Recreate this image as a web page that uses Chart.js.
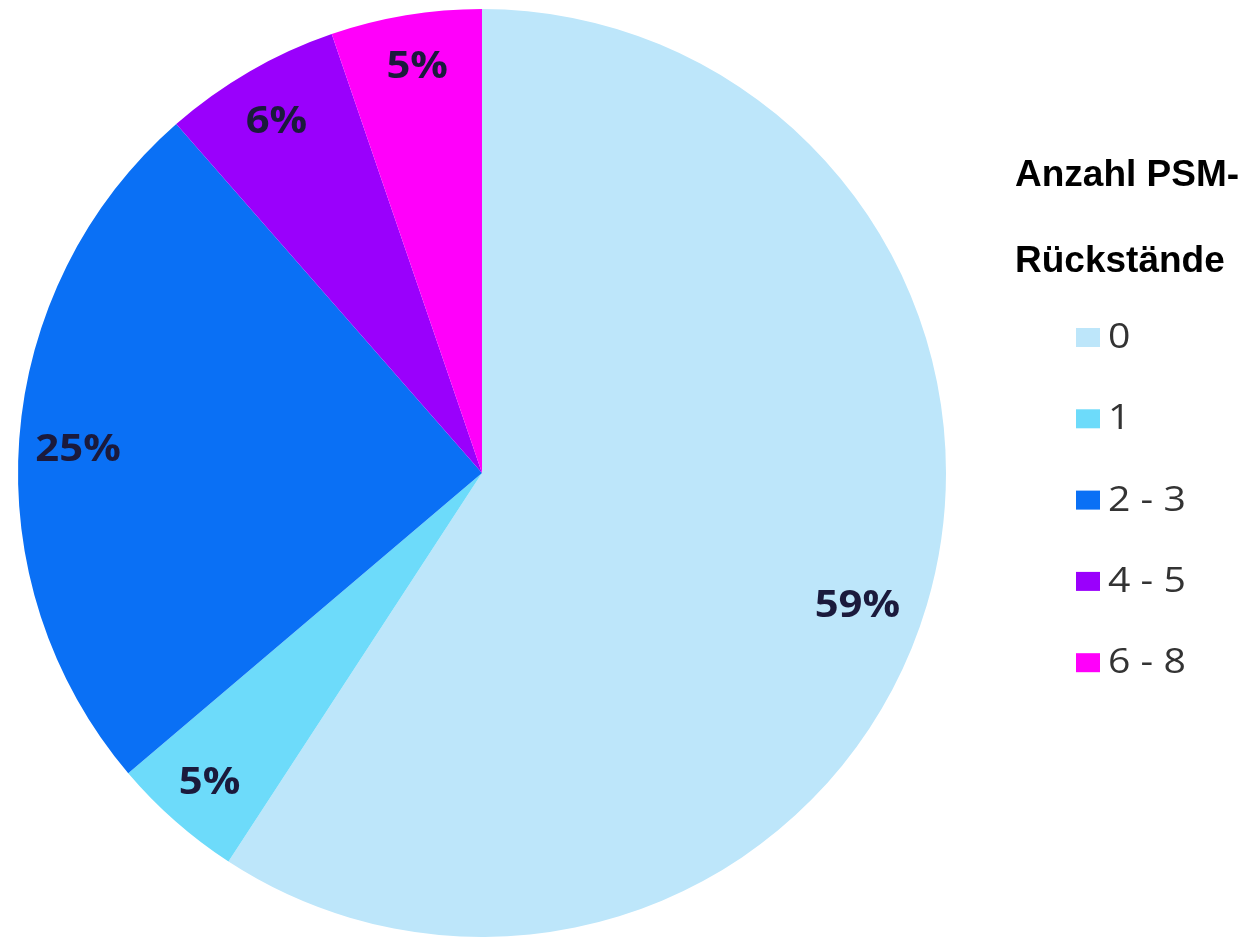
<!DOCTYPE html>
<html>
<head>
<meta charset="utf-8">
<script src="https://cdn.jsdelivr.net/npm/chart.js@4/dist/chart.umd.min.js"></script>
<style>
  html, body { margin: 0; padding: 0; background: #fff; }
  #wrap { width: 1245px; height: 938px; position: relative; }
</style>
</head>
<body>
<div id="wrap"><canvas id="pieChart"></canvas></div>
<script>
// Anzahl PSM-Rückstände, share of samples
const categories = ['0', '1', '2 - 3', '4 - 5', '6 - 8'];
const shares = [59.2, 4.6, 24.75, 6.2, 5.25];
const sliceColors = ['#BDE6FA', '#6DDBFA', '#0A70F5', '#9A00FC', '#FF00FA'];
const legendTitle = ['Anzahl PSM-', 'Rückstände'];

// label placement: fraction of radius, angle nudge in degrees
const labelRadius = [0.858, 0.888, 0.872, 0.879, 0.888];
const labelNudge = [2.9, 0, -0.9, -0.2, 0.4];

function stretchedText(ctx, text, x, y, sx) {
    ctx.save();
    ctx.translate(x, y);
    ctx.scale(sx, 1);
    ctx.fillText(text, 0, 0);
    ctx.restore();
}

// Percentage labels inside the slices
const sliceLabels = {
    id: 'sliceLabels',
    afterDatasetsDraw(chart) {
        const ctx = chart.ctx;
        const meta = chart.getDatasetMeta(0);
        ctx.save();
        ctx.font = 'bold 38px "Open Sans", sans-serif';
        ctx.fillStyle = '#1b1a3c';
        ctx.textAlign = 'center';
        ctx.textBaseline = 'middle';
        meta.data.forEach((arc, i) => {
            const mid = (arc.startAngle + arc.endAngle) / 2 + labelNudge[i] * Math.PI / 180;
            const r = arc.outerRadius * labelRadius[i];
            stretchedText(ctx, Math.round(shares[i]) + '%',
                arc.x + Math.cos(mid) * r, arc.y + Math.sin(mid) * r + 1, 1.1);
        });
        ctx.restore();
    }
};

// Legend on the right with a two-line bold title
const sideLegend = {
    id: 'sideLegend',
    afterDraw(chart) {
        const ctx = chart.ctx;
        ctx.save();
        ctx.font = 'bold 37px "Liberation Sans", Arial, sans-serif';
        ctx.fillStyle = '#000';
        ctx.textBaseline = 'middle';
        ctx.textAlign = 'left';
        ctx.fillText(legendTitle[0], 1015, 176);
        ctx.fillText(legendTitle[1], 1015, 262);

        ctx.font = '35px "Open Sans", sans-serif';
        categories.forEach((c, i) => {
            const y = 337 + i * 81.3;
            ctx.fillStyle = sliceColors[i];
            ctx.fillRect(1076, y - 9, 24, 19);
            ctx.fillStyle = '#333';
            stretchedText(ctx, c, 1108, y + 1, 1.12);
        });
        ctx.restore();
    }
};

new Chart(document.getElementById('pieChart'), {
    type: 'pie',
    data: {
        labels: categories,
        datasets: [{
            data: shares,
            backgroundColor: sliceColors,
            borderWidth: 0
        }]
    },
    options: {
        responsive: true,
        maintainAspectRatio: false,
        animation: false,
        layout: { padding: { left: 18, right: 299, top: 9, bottom: 1 } },
        plugins: {
            legend: { display: false },
            tooltip: { enabled: false }
        }
    },
    plugins: [sliceLabels, sideLegend]
});
</script>
</body>
</html>
